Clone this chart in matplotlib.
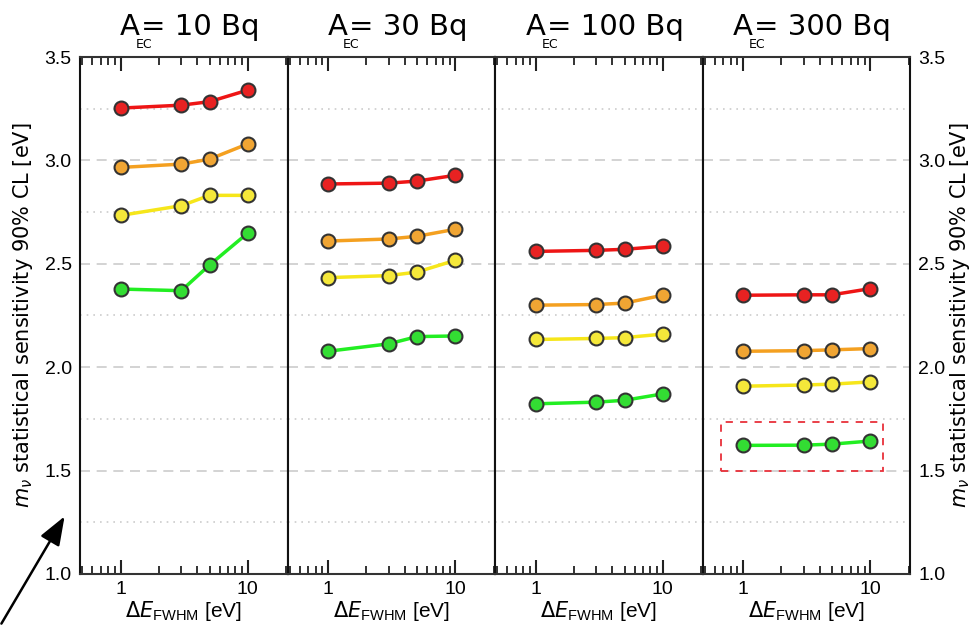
import matplotlib
matplotlib.use("Agg")
import matplotlib.pyplot as plt
from matplotlib.patches import Rectangle, FancyArrowPatch
from matplotlib.ticker import FixedLocator, NullFormatter

# data
fwhm = [1, 3, 5, 10]
activities = ["10", "30", "100", "300"]

red = [[3.253, 3.267, 3.284, 3.340],
       [2.886, 2.890, 2.900, 2.928],
       [2.560, 2.565, 2.570, 2.585],
       [2.348, 2.350, 2.350, 2.380]]
orange = [[2.966, 2.982, 3.006, 3.080],
          [2.610, 2.620, 2.633, 2.667],
          [2.300, 2.303, 2.310, 2.348],
          [2.077, 2.080, 2.084, 2.090]]
yellow = [[2.734, 2.781, 2.831, 2.831],
          [2.433, 2.443, 2.460, 2.517],
          [2.134, 2.139, 2.143, 2.160],
          [1.908, 1.914, 1.918, 1.929]]
green = [[2.378, 2.370, 2.494, 2.649],
         [2.077, 2.113, 2.148, 2.151],
         [1.823, 1.831, 1.840, 1.871],
         [1.622, 1.623, 1.628, 1.643]]

series = [(red, "#ee1515", "#e82222"),
          (orange, "#f4a020", "#f0a533"),
          (yellow, "#f6e61a", "#f5e83a"),
          (green, "#22ee22", "#33dd33")]

yticks = [1.0, 1.5, 2.0, 2.5, 3.0, 3.5]
minor_x = [0.5, 0.6, 0.7, 0.8, 0.9, 2, 3, 4, 5, 6, 7, 8, 9, 20]

# highlight box in last panel
box_x = (0.67, 12.6)
box_y = (1.50, 1.735)

sans = ["Liberation Sans", "DejaVu Sans"]
ylab = r"$\mathit{m}_{\nu}$ statistical sensitivity 90% CL [eV]"

fig = plt.figure(figsize=(9.74, 6.30), dpi=100)
left, right = 80 / 974, 910 / 974
bottom, top = 1 - 574 / 630, 1 - 57 / 630
w = (right - left) / 4

spine_col = "#333333"
for i in range(4):
    ax = fig.add_axes([left + i * w, bottom, w, top - bottom])
    ax.set_xscale("log")
    ax.set_xlim(0.48, 20.5)
    ax.set_ylim(1.0, 3.5)

    # grid
    for g in [1.5, 2.0, 2.5, 3.0]:
        ax.axhline(g, color="#cccccc", ls=(0, (6, 4)), lw=1.2, zorder=0)
    for g in [1.25, 1.75, 2.25, 2.75, 3.25]:
        ax.axhline(g, color="#cccccc", ls=(0, (1, 3)), lw=1.2, zorder=0)

    for data, lc, mc in series:
        ax.plot(fwhm, data[i], color=lc, lw=2.5, marker="o", ms=10,
                mfc=mc, mec="#333333", mew=1.5, zorder=3)

    ax.xaxis.set_major_locator(FixedLocator([1, 10]))
    ax.xaxis.set_minor_locator(FixedLocator(minor_x))
    ax.xaxis.set_minor_formatter(NullFormatter())
    ax.set_xticklabels(["1", "10"], family=sans)
    ax.tick_params(axis="x", which="major", direction="in", top=True, bottom=True,
                   length=10, width=1.5, color="#222222", labelsize=14, pad=5)
    ax.tick_params(axis="x", which="minor", direction="in", top=True, bottom=True,
                   length=6, width=1.3, color="#222222")
    ax.set_yticks(yticks)
    ax.set_yticklabels(["%.1f" % t for t in yticks], family=sans)
    ax.tick_params(axis="y", length=0, labelsize=14, pad=6,
                   left=False, right=False,
                   labelleft=(i == 0), labelright=(i == 3))
    for s in ax.spines.values():
        s.set_color(spine_col)
        s.set_linewidth(1.5)
    ax.spines["left"].set_color("#111111")
    ax.spines["right"].set_color("#111111")

    ax.set_xlabel(r"$\Delta \mathit{E}_{\mathregular{FWHM}}$ [eV]", fontsize=15,
                  family=sans, labelpad=1)

    # title: A with small EC subscript, then "= N Bq"
    eq = ax.annotate("= " + activities[i] + " Bq", xy=(0.5, 1.0), xycoords="axes fraction",
                     xytext=(12, 16), textcoords="offset points",
                     ha="center", va="baseline", fontsize=21)
    ax.annotate("A", xy=(0, 0), xycoords=eq, xytext=(-1, 0), textcoords="offset points",
                ha="right", va="bottom", fontsize=21)
    ax.annotate("EC", xy=(0, 0), xycoords=eq, xytext=(2, -7), textcoords="offset points",
                ha="center", va="bottom", fontsize=9)

    if i == 0:
        ax.set_ylabel(ylab, fontsize=15, labelpad=7)
    if i == 3:
        ax.yaxis.set_label_position("right")
        ax.set_ylabel(ylab, fontsize=15, labelpad=2)
        ax.add_patch(Rectangle((box_x[0], box_y[0]), box_x[1] - box_x[0], box_y[1] - box_y[0],
                               fill=False, ec="#e8303a", ls=(0, (4, 4)), lw=1.3, zorder=4))

# arrow in lower left corner
fig.patches.append(FancyArrowPatch(
    (0 / 974, 1 - 626 / 630), (66 / 974, 1 - 514 / 630),
    transform=fig.transFigure, arrowstyle="-|>,head_length=0.8,head_width=0.3",
    mutation_scale=22, color="black", lw=1.8))

fig.savefig("out.png", dpi=100)
